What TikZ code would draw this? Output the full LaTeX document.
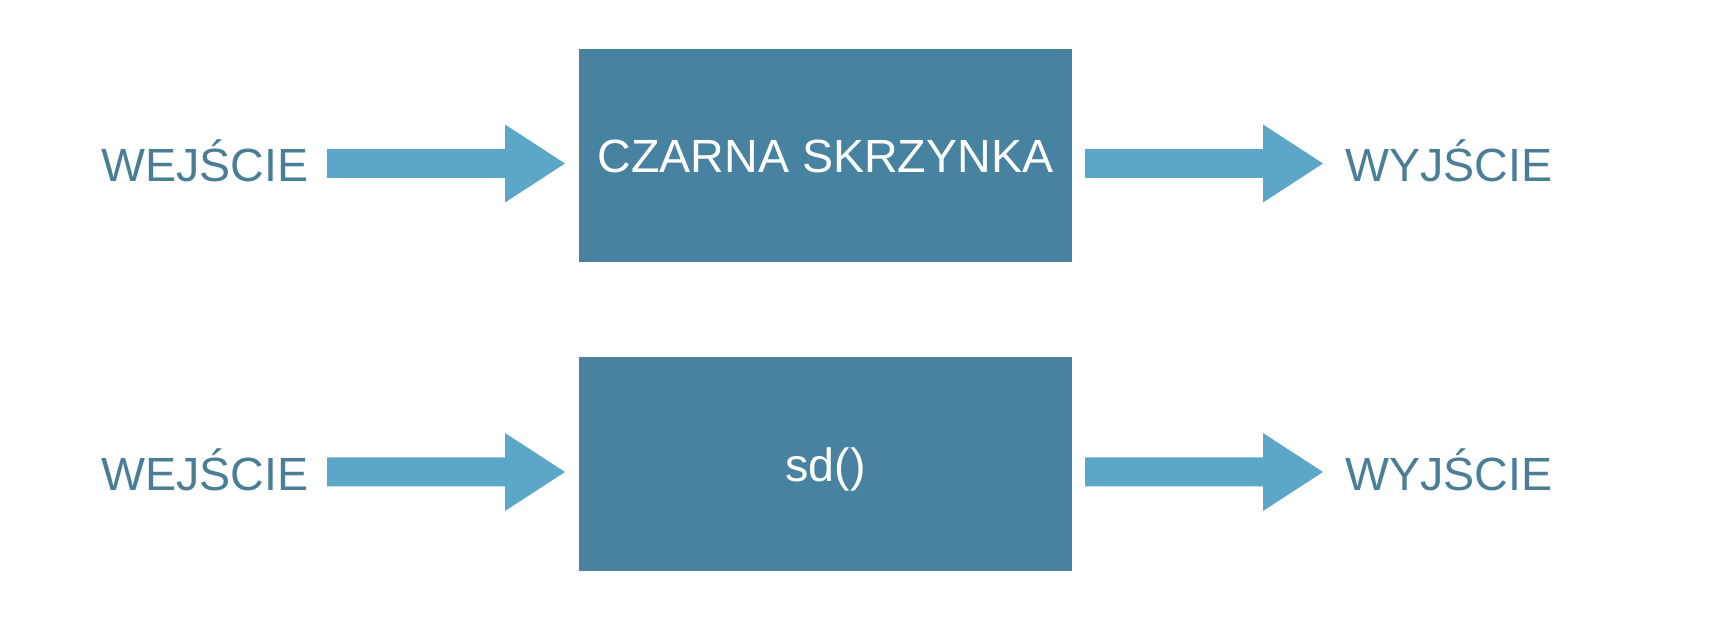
\documentclass[tikz,border=0pt]{standalone}
\usepackage{fontspec}
\setmainfont{Liberation Sans}
\definecolor{boxfill}{HTML}{4783A0}
\definecolor{arrowfill}{HTML}{5CA7C8}
\definecolor{labeltext}{HTML}{4A7E96}
\begin{document}
\begin{tikzpicture}[x=0.5pt,y=-0.5pt,
  blackbox/.style={fill=boxfill,draw=none,inner sep=0pt,minimum width=246.5pt,minimum height=106.5pt},
  boxtext/.style={text=white,font=\fontsize{23.3}{28}\selectfont,anchor=base,inner sep=0pt},
  label/.style={text=labeltext,font=\fontsize{23.3}{28}\selectfont,anchor=base west,inner sep=0pt},
  blockarrow/.style={fill=arrowfill,draw=none}]
\useasboundingbox (0,0) rectangle (1728,624);
% rows
\foreach \r/\dy/\txt in {top/0/CZARNA SKRZYNKA,bot/308.5/sd()}{
  \node[blackbox] (box\r) at (825.5,155.5+\dy) {};
  \node[boxtext] (boxtxt\r) at (825.5,173+\dy) {\txt};
  \node[label] (in\r) at (101,182+\dy) {WEJŚCIE};
  \node[label] (out\r) at (1345,182+\dy) {WYJŚCIE};
  % input arrow
  \coordinate (ia\r) at (327,163.5+\dy);
  \coordinate (ib\r) at (565,163.5+\dy);
  \fill[blockarrow] (ia\r) ++(0,-14.5) -- ++(178,0) -- ++(0,-24.5) -- (ib\r) -- ++(-60,39) -- ++(0,-24.5) -- ++(-178,0) -- cycle;
  % output arrow
  \coordinate (oa\r) at (1085,163.5+\dy);
  \coordinate (ob\r) at (1323,163.5+\dy);
  \fill[blockarrow] (oa\r) ++(0,-14.5) -- ++(178,0) -- ++(0,-24.5) -- (ob\r) -- ++(-60,39) -- ++(0,-24.5) -- ++(-178,0) -- cycle;
}
\end{tikzpicture}
\end{document}
